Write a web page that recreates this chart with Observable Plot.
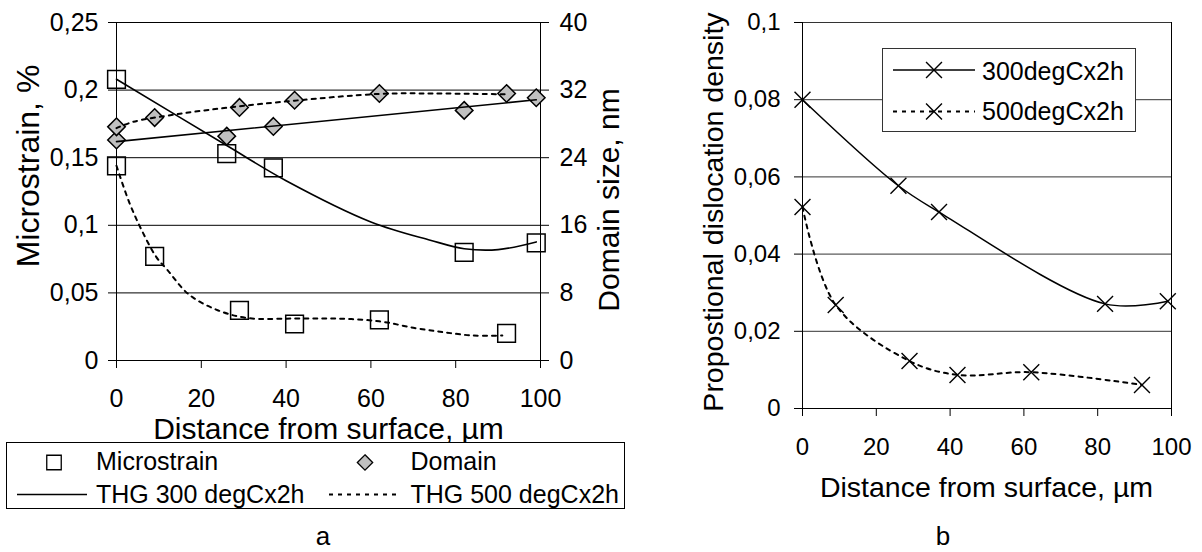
<!DOCTYPE html>
<html>
<head>
<meta charset="utf-8">
<script src="https://cdn.jsdelivr.net/npm/d3@7"></script>
<script src="https://cdn.jsdelivr.net/npm/@observablehq/plot@0.6"></script>
<style>
html, body { margin: 0; padding: 0; background: #fff; }
#wrap { position: relative; width: 1202px; height: 552px; overflow: hidden; background: #fff; }
</style>
</head>
<body>
<div id="wrap"></div>
<script>
// ---------------- shared ticks ----------------
const xTicks = [0, 20, 40, 60, 80, 100];
const yTicksMicro = [0, 0.05, 0.1, 0.15, 0.2, 0.25];
const yTicksDomain = [0, 8, 16, 24, 32, 40];
const yTicksDensity = [0, 0.02, 0.04, 0.06, 0.08, 0.1];

// ---------------- measured points (distance from surface, µm) ----------------
const dist300 = [0, 26, 37, 82, 99];
const dist500 = [0, 9, 29, 42, 62, 92];

// panel a – markers
const microstrain300 = [0.208, 0.153, 0.1425, 0.080, 0.087];
const microstrain500 = [0.144, 0.077, 0.037, 0.027, 0.030, 0.020];
const domain300 = [26.1, 26.55, 27.7, 29.6, 31.1];
const domain500 = [27.65, 28.75, 29.95, 30.8, 31.6, 31.6];

// panel a – THG curves
const thg300MicroX = [0, 26, 40, 60, 74, 82, 90, 99];
const thg300MicroY = [0.208, 0.159, 0.133, 0.1025, 0.089, 0.0827, 0.082, 0.0877];
const thg500MicroX = [0, 3, 6, 9.4, 12, 17, 24, 31, 42, 52, 62, 70, 77, 84, 91];
const thg500MicroY = [0.144, 0.117, 0.096, 0.0765, 0.067, 0.049, 0.037, 0.0314, 0.031, 0.031, 0.029, 0.0242, 0.021, 0.0185, 0.0185];
const thg300DomX = [0, 99];
const thg300DomY = [25.9, 30.85];
const thg500DomX = [0, 4, 15, 27.5, 42, 62, 75, 92];
const thg500DomY = [27.5, 28.25, 29.2, 30.0, 30.75, 31.55, 31.6, 31.5];

// panel b – proportional dislocation density
const density300 = [0.080, 0.0577, 0.0509, 0.0271, 0.0278];
const density500 = [0.0522, 0.0268, 0.0123, 0.0087, 0.0094, 0.0061];

// ---------------- helpers ----------------
const FONT = '"Liberation Sans", Arial, sans-serif';
const fmt = d => String(d).replace(".", ",");
const pts = (xs, ys) => xs.map((x, i) => ({x, y: ys[i]}));
const wrap = document.getElementById("wrap");
function place(svg, left, top) {
  svg.style.position = "absolute";
  svg.style.left = left + "px";
  svg.style.top = top + "px";
  svg.style.background = "transparent";
  svg.style.overflow = "visible";
  svg.style.maxWidth = "none";
  wrap.appendChild(svg);
}
const baseStyle = {fontFamily: FONT, color: "#000", background: "transparent"};

// ---------------- panel a, primary axis (microstrain) ----------------
const chartA = Plot.plot({
  width: 620, height: 460,
  marginLeft: 116, marginRight: 80, marginTop: 22, marginBottom: 100,
  x: {domain: [0, 100]},
  y: {domain: [0, 0.25]},
  style: {...baseStyle, fontSize: "25px"},
  marks: [
    Plot.gridY(yTicksMicro.filter(d => d > 0), {stroke: "#000", strokeOpacity: 1, strokeWidth: 1}),
    Plot.ruleY([0], {stroke: "#000"}),
    Plot.ruleX([0], {stroke: "#000"}),
    Plot.axisY({ticks: yTicksMicro, tickSize: 8, tickPadding: 10, tickFormat: fmt, fontSize: 25, label: null}),
    Plot.axisX({ticks: xTicks, tickSize: 8, tickPadding: 21, fontSize: 25, label: null}),
    Plot.dot(pts(dist300, microstrain300), {x: "x", y: "y", symbol: "square", r: 10, fill: "none", stroke: "#000", strokeWidth: 1.5}),
    Plot.dot(pts(dist500, microstrain500), {x: "x", y: "y", symbol: "square", r: 10, fill: "none", stroke: "#000", strokeWidth: 1.5}),
    Plot.line(pts(thg300MicroX, thg300MicroY), {x: "x", y: "y", curve: "catmull-rom", stroke: "#000", strokeWidth: 1.6}),
    Plot.line(pts(thg500MicroX, thg500MicroY), {x: "x", y: "y", curve: "catmull-rom", stroke: "#000", strokeWidth: 2, strokeDasharray: "4,5"})
  ]
});
place(chartA, 0, 0);

// ---------------- panel a, secondary axis (domain size) ----------------
const chartA2 = Plot.plot({
  width: 620, height: 460,
  marginLeft: 116, marginRight: 80, marginTop: 22, marginBottom: 100,
  x: {domain: [0, 100], axis: null},
  y: {domain: [0, 40]},
  style: {...baseStyle, fontSize: "25px"},
  marks: [
    Plot.ruleX([100], {stroke: "#000"}),
    Plot.axisY({anchor: "right", ticks: yTicksDomain, tickSize: 8, tickPadding: 11, fontSize: 25, label: null}),
    Plot.dot(pts(dist300, domain300), {x: "x", y: "y", symbol: "diamond2", r: 7.9, fill: "#c0c0c0", stroke: "#000", strokeWidth: 1.5}),
    Plot.dot(pts(dist500, domain500), {x: "x", y: "y", symbol: "diamond2", r: 7.9, fill: "#c0c0c0", stroke: "#000", strokeWidth: 1.5}),
    Plot.line(pts(thg300DomX, thg300DomY), {x: "x", y: "y", stroke: "#000", strokeWidth: 1.6}),
    Plot.line(pts(thg500DomX, thg500DomY), {x: "x", y: "y", curve: "catmull-rom", stroke: "#000", strokeWidth: 2, strokeDasharray: "4,5"})
  ]
});
place(chartA2, 0, 0);

// ---------------- panel b ----------------
const chartB = Plot.plot({
  width: 582, height: 460,
  marginLeft: 182, marginRight: 31, marginTop: 22, marginBottom: 52,
  x: {domain: [0, 100]},
  y: {domain: [0, 0.1]},
  style: {...baseStyle, fontSize: "24px"},
  marks: [
    Plot.gridY(yTicksDensity.filter(d => d > 0), {stroke: "#333", strokeOpacity: 1, strokeWidth: 1}),
    Plot.ruleY([0], {stroke: "#000"}),
    Plot.ruleX([0], {stroke: "#000"}),
    Plot.ruleX([100], {stroke: "#000"}),
    Plot.axisY({ticks: yTicksDensity, tickSize: 8, tickPadding: 14, tickFormat: fmt, fontSize: 24, label: null}),
    Plot.axisX({ticks: xTicks, tickSize: 8, tickPadding: 21, fontSize: 24, label: null}),
    Plot.line(pts(dist300, density300), {x: "x", y: "y", curve: "catmull-rom", stroke: "#000", strokeWidth: 1.5}),
    Plot.line(pts(dist500, density500), {x: "x", y: "y", curve: "catmull-rom", stroke: "#000", strokeWidth: 2, strokeDasharray: "4,5"}),
    Plot.dot(pts(dist300, density300), {x: "x", y: "y", symbol: "times", r: 7.3, stroke: "#000", strokeWidth: 1.4}),
    Plot.dot(pts(dist500, density500), {x: "x", y: "y", symbol: "times", r: 7.3, stroke: "#000", strokeWidth: 1.4})
  ]
});
place(chartB, 620, 0);

// ---------------- titles, legends, panel letters ----------------
const ann = d3.create("svg")
  .attr("width", 1202).attr("height", 552)
  .style("font-family", FONT);
function txt(x, y, s, size, anchor = "start", rot = 0) {
  const t = ann.append("text").attr("font-size", size).attr("text-anchor", anchor).attr("fill", "#000").text(s);
  if (rot) t.attr("transform", `translate(${x},${y}) rotate(${rot})`).attr("dominant-baseline", "central");
  else t.attr("x", x).attr("y", y);
  return t;
}
// panel a titles
txt(28, 166, "Microstrain, %", 32, "middle", -90);
txt(608, 200, "Domain size, nm", 30, "middle", -90);
txt(328.5, 439, "Distance from surface, µm", 30, "middle");
txt(323, 545, "a", 26, "middle");
// panel b titles
txt(713, 212, "Propostional dislocation density", 28.5, "middle", -90);
txt(986.5, 497, "Distance from surface, µm", 28.5, "middle");
txt(943, 545, "b", 26, "middle");

// legend panel a
ann.append("rect").attr("x", 6.5).attr("y", 442.5).attr("width", 618).attr("height", 66)
  .attr("fill", "#fff").attr("stroke", "#000").attr("stroke-width", 1);
ann.append("path").attr("d", d3.symbol(d3.symbolSquare, 210)()).attr("transform", "translate(54,462.5)")
  .attr("fill", "#fff").attr("stroke", "#000").attr("stroke-width", 1.3);
txt(96, 470, "Microstrain", 25);
ann.append("path").attr("d", d3.symbol(d3.symbolDiamond2, 150)()).attr("transform", "translate(365,462.5)")
  .attr("fill", "#c0c0c0").attr("stroke", "#000").attr("stroke-width", 1.3);
txt(410.5, 470, "Domain", 25);
ann.append("line").attr("x1", 17).attr("x2", 87).attr("y1", 494.5).attr("y2", 494.5).attr("stroke", "#000").attr("stroke-width", 1.6);
txt(96, 503, "THG 300 degCx2h", 25);
ann.append("line").attr("x1", 329).attr("x2", 398).attr("y1", 494.5).attr("y2", 494.5).attr("stroke", "#000").attr("stroke-width", 2).attr("stroke-dasharray", "4,5");
txt(410.5, 503, "THG 500 degCx2h", 25);

// legend panel b
ann.append("rect").attr("x", 882.5).attr("y", 48.5).attr("width", 253).attr("height", 83)
  .attr("fill", "#fff").attr("stroke", "#333").attr("stroke-width", 1);
ann.append("line").attr("x1", 893).attr("x2", 975).attr("y1", 70).attr("y2", 70).attr("stroke", "#000").attr("stroke-width", 1.5);
ann.append("path").attr("d", d3.symbol(d3.symbolTimes, 167)()).attr("transform", "translate(934,70)")
  .attr("fill", "none").attr("stroke", "#000").attr("stroke-width", 1.4);
txt(982, 80, "300degCx2h", 25);
ann.append("line").attr("x1", 893).attr("x2", 975).attr("y1", 111.5).attr("y2", 111.5).attr("stroke", "#000").attr("stroke-width", 2).attr("stroke-dasharray", "4,5");
ann.append("path").attr("d", d3.symbol(d3.symbolTimes, 167)()).attr("transform", "translate(934,111.5)")
  .attr("fill", "none").attr("stroke", "#000").attr("stroke-width", 1.4);
txt(982, 120, "500degCx2h", 25);

place(ann.node(), 0, 0);
</script>
</body>
</html>
